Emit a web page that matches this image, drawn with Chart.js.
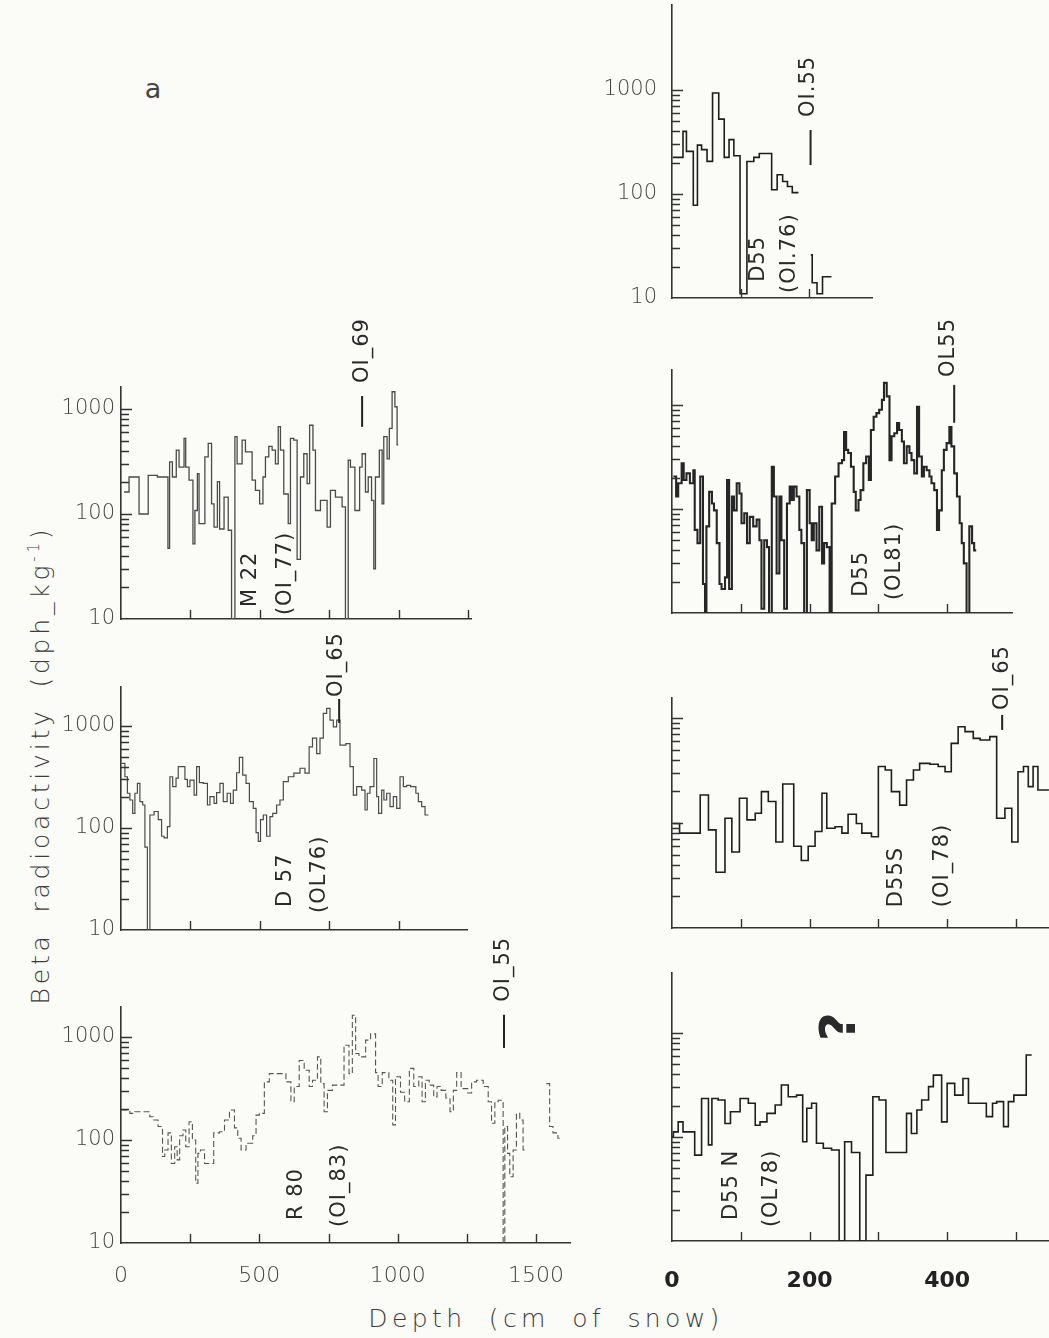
<!DOCTYPE html>
<html>
<head>
<meta charset="utf-8">
<title>Beta radioactivity profiles</title>
<script src="https://cdn.jsdelivr.net/npm/chart.js@4.4.1/dist/chart.umd.min.js"></script>
<style>
  html, body { margin: 0; padding: 0; background: #fbfbf8; }
  #fig { position: relative; width: 1049px; height: 1338px; overflow: hidden; }
  #fig canvas { position: absolute; }
  .lbl { position: absolute; white-space: nowrap; color: #3c3c3c;
         font-family: "DejaVu Sans", sans-serif; font-weight: 300; line-height: 1; }
  .rot { transform: translate(-50%, -50%) rotate(-90deg); }
  .ctr { transform: translate(-50%, -50%); }
  sup { font-size: 0.6em; vertical-align: 0.7em; }
</style>
</head>
<body>
<div id="fig">
  <div class="lbl ctr" style="left:153px; top:88px; font-size:27px; font-weight:normal; color:#444;">a</div>
  <div class="lbl rot" style="left:40px; top:765px; font-size:25px; letter-spacing:3.8px; word-spacing:8px;">Beta radioactivity (dph_kg<sup>-1</sup>)</div>
  <div class="lbl ctr" style="left:546px; top:1318px; font-size:25px; letter-spacing:4.4px; word-spacing:10px;">Depth (cm of snow)</div>
</div>
<script>
// ---------------------------------------------------------------------------
// Beta activity (dph kg-1) against depth (cm of snow), one array of bin edges
// (cm) and one array of bin values per core. A null value is a missing bin.
// ---------------------------------------------------------------------------

// M22 (OI_77)
const m22Depth = [11, 29, 65, 98, 131, 169, 175, 185, 199, 209, 227, 233, 245, 259, 266, 275, 281, 302, 314, 326,
  335, 347, 355, 371, 386, 398, 410, 418, 436, 448, 472, 484, 499, 511, 520, 532, 544, 556, 566, 574,
  586, 602, 610, 622, 634, 646, 658, 670, 679, 691, 700, 718, 742, 754, 772, 796, 808, 818, 826, 842,
  859, 868, 880, 890, 902, 910, 916, 930, 940, 946, 958, 966, 976, 986, 994, 998];
const m22Beta = [162, 225, 100, 233, 225, 47, 313, 225, 405, 280, 525, 280, 210, 52, 108, 242, 81, 350, 470, 125,
  75, 203, 72, 145, 70, 10, 545, 300, 505, 390, 210, 168, 125, 225, 350, 440, 405, 300, 680, 405,
  155, 81, 525, 505, 37, 225, 375, 195, 700, 405, 108, 135, 75, 168, 145, 117, 10, 325, 280, 108,
  280, 375, 162, 225, 135, 30, 225, 405, 125, 545, 335, 655, 1460, 1050, 455];

// D57 (OL76)
const d57Depth = [2, 14, 23, 32, 42, 50, 59, 68, 78, 86, 95, 104, 119, 134, 146, 155, 167, 176, 186, 198,
  206, 230, 239, 248, 263, 272, 282, 296, 311, 320, 335, 344, 356, 368, 382, 394, 404, 416, 426, 438,
  450, 462, 476, 486, 494, 502, 512, 524, 536, 546, 560, 572, 584, 602, 622, 644, 662, 677, 689, 704,
  716, 728, 740, 752, 764, 776, 788, 809, 824, 836, 848, 866, 878, 886, 896, 910, 920, 927, 938, 946,
  956, 968, 980, 992, 1004, 1016, 1028, 1042, 1061, 1070, 1082, 1094, 1106];
const d57Beta = [430, 318, 219, 188, 139, 219, 274, 181, 168, 65, 10, 134, 145, 121, 83, 80, 103, 318, 254, 308,
  400, 300, 254, 295, 210, 400, 278, 274, 168, 203, 174, 222, 274, 181, 219, 174, 235, 348, 492, 330,
  274, 181, 156, 90, 74, 121, 134, 83, 129, 139, 168, 188, 285, 318, 345, 385, 345, 625, 760, 536,
  760, 1330, 1490, 1140, 980, 1140, 650, 670, 400, 210, 254, 235, 150, 219, 254, 480, 203, 139, 235, 188,
  219, 162, 203, 156, 318, 254, 262, 254, 219, 181, 162, 134];

// R80 (OI_83)
const r80Depth = [2, 32, 50, 104, 116, 134, 150, 158, 170, 182, 194, 203, 212, 224, 234, 246, 258, 270, 278, 287,
  302, 335, 356, 374, 392, 410, 422, 434, 452, 476, 488, 500, 518, 536, 596, 614, 626, 644, 662, 680,
  692, 710, 722, 734, 746, 764, 806, 824, 836, 848, 860, 884, 902, 920, 929, 944, 968, 982, 992, 1010,
  1025, 1042, 1058, 1076, 1088, 1100, 1114, 1130, 1142, 1157, 1174, 1189, 1201, 1213, 1229, 1253, 1267, 1285, 1309, 1327,
  1339, 1351, 1363, 1381, 1387, 1397, 1405, 1417, 1429, 1441, 1453, 1459, 1537, 1549, 1561, 1579, 1585];
const r80Beta = [195, 181, 188, 168, 156, 135, 69, 80, 117, 59, 86, 64, 110, 125, 86, 150, 100, 38, 74, 80,
  59, 117, 120, 156, 195, 131, 104, 80, 93, 110, 174, 181, 366, 440, 366, 235, 330, 590, 475, 330,
  380, 640, 352, 188, 303, 340, 830, 440, 1620, 690, 640, 930, 1070, 450, 330, 450, 380, 140, 410, 290,
  235, 495, 330, 410, 235, 380, 340, 262, 330, 303, 255, 188, 303, 450, 315, 285, 366, 380, 330, 235,
  145, 235, 243, 10, 135, 74, 44, 80, 181, 156, 80, null, 352, 135, 117, 104];

// D55 (OI.76)
const d55aDepth = [1, 16, 21, 31, 37, 43, 51, 59, 68, 76, 83, 90, 99, 109, 119, 127, 145, 153, 161, 168,
  175, 184, 202, 204, 211, 219, 232];
const d55aBeta = [225, 400, 257, 78, 295, 267, 206, 935, 525, 225, 333, 233, 11, 205, 225, 245, 110, 153, 132, 118,
  103, null, 26, 14, 11, 16];

// D55 (OL81)
const d55bDepth = [2, 6, 9, 14, 17, 21, 26, 31, 33, 37, 41, 45, 48, 50, 54, 58, 61, 65, 69, 72,
  77, 80, 83, 87, 90, 94, 98, 101, 105, 109, 113, 118, 123, 127, 130, 134, 138, 141, 145, 148,
  152, 156, 159, 163, 167, 171, 174, 177, 181, 185, 188, 192, 196, 200, 203, 206, 210, 214, 218, 221,
  225, 229, 232, 237, 242, 247, 250, 253, 256, 260, 264, 267, 271, 274, 278, 282, 286, 289, 293, 297,
  301, 305, 308, 312, 316, 319, 323, 327, 330, 334, 337, 341, 345, 348, 352, 356, 359, 363, 366, 370,
  374, 377, 381, 385, 388, 392, 395, 399, 403, 406, 410, 414, 418, 421, 424, 428, 432, 436, 439, 442];
const d55bBeta = [205, 132, 177, 275, 190, 220, 177, 236, 63, 47, 205, 19, 10, 68, 146, 113, 97, 47, 19, 17,
  22, 190, 17, 132, 97, 177, 141, 73, 91, 47, 84, 68, 79, 50, 11, 50, 43, 10, 255, 132,
  24, 132, 50, 11, 113, 164, 122, 164, 132, 63, 47, 10, 152, 73, 50, 73, 40, 105, 30, 47,
  43, 10, 113, 205, 275, 295, 550, 370, 345, 255, 146, 97, 122, 152, 275, 320, 190, 575, 770, 835,
  900, 1120, 1630, 1210, 295, 500, 535, 670, 575, 445, 275, 400, 345, 295, 220, 960, 320, 205, 255, 236,
  205, 177, 152, 63, 97, 236, 370, 430, 615, 400, 220, 132, 73, 47, 30, 10, 68, 47, 40];

// D55 S (OI_78)
const d55sDepth = [2, 11, 41, 53, 64, 77, 87, 98, 109, 121, 130, 140, 151, 161, 177, 188, 198, 208, 218, 225,
  237, 247, 256, 268, 276, 290, 300, 310, 319, 331, 341, 351, 360, 375, 387, 397, 406, 416, 426, 438,
  448, 462, 472, 484, 494, 503, 511, 518, 525, 532, 548];
const d55sBeta = [99, 80, 185, 86, 34, 111, 53, 172, 107, 124, 199, 160, 66, 235, 60, 44, 60, 83, 192, 89,
  92, 80, 121, 99, 80, 74, 345, 320, 199, 148, 257, 320, 370, 362, 345, 308, 573, 826, 741, 640,
  617, 664, 111, 138, 66, 308, 345, 222, 345, 206];

// D55 N (OL78)
const d55nDepth = [0, 2, 9, 16, 33, 43, 53, 58, 67, 77, 85, 99, 111, 121, 128, 138, 150, 159, 169, 181,
  190, 196, 203, 210, 220, 232, 243, 251, 261, 273, 282, 292, 301, 311, 341, 348, 356, 363, 373, 380,
  392, 400, 411, 423, 431, 457, 466, 472, 482, 489, 497, 515, 523];
const d55nBeta = [101, 112, 140, 112, 67, 235, 84, 235, 227, 135, 175, 235, 211, 130, 140, 169, 203, 316, 244, 253,
  90, 189, 211, 87, 78, 75, 10, 90, 71, 10, 43, 244, 227, 71, 169, 108, 182, 227, 305, 394,
  140, 328, 253, 366, 211, 157, 211, 219, 126, 219, 253, 614];

// Axis tick values
const betaTicks = [10, 100, 1000];
const leftDepthTicks = [0, 500, 1000, 1500];
const rightDepthTicks = [0, 200, 400];

// ---------------------------------------------------------------------------
// Layout: plot-area edges on the page (px), axis ranges and drawing styles
// ---------------------------------------------------------------------------
const LEFT_PX_PER_CM = 0.278, RIGHT_PX_PER_CM = 0.688;
const Y_W = 90, X_H = 70, PAD_T = 100, PAD_R = 12;
const FONT = '"DejaVu Sans", sans-serif';

const panels = [
  { depth: m22Depth, beta: m22Beta, left: 121, top: 387, bottom: 619, xMax: 1260, yMax: 1620,
    scale: LEFT_PX_PER_CM, step: 250, xLabels: null, yLabels: true, yPad: 6,
    line: { color: '#4a4a4a', width: 1.3 },
    notes: [ { text: 'M 22', x: 467, y: 13 }, { text: '(OI_77)', x: 592, y: 10.9 }, { text: 'OI_69', x: 868, y: 1770 } ],
    marks: [ { x: 868, y0: 676, y1: 1330 } ] },
  { depth: d57Depth, beta: d57Beta, left: 121, top: 687, bottom: 930, xMax: 1245, yMax: 2410,
    scale: LEFT_PX_PER_CM, step: 250, xLabels: null, yLabels: true, yPad: 6,
    line: { color: '#4a4a4a', width: 1.2 },
    notes: [ { text: 'D 57', x: 592, y: 16.8 }, { text: '(OL76)', x: 715, y: 14.7 }, { text: 'OI_65', x: 776, y: 1920 } ],
    marks: [ { x: 785, y0: 1070, y1: 1840 } ] },
  { depth: r80Depth, beta: r80Beta, left: 121, top: 1007, bottom: 1243, xMax: 1625, yMax: 1950,
    scale: LEFT_PX_PER_CM, step: 250, xLabels: leftDepthTicks, xPad: 20, yLabels: true, yPad: 6,
    line: { color: '#555', width: 1.1, dash: [6, 3] },
    notes: [ { text: 'R 80', x: 633, y: 16.7 }, { text: '(OI_83)', x: 790, y: 14.3 }, { text: 'OI_55', x: 1384, y: 2190 } ],
    marks: [ { x: 1384, y0: 781, y1: 1640 } ] },
  { depth: d55aDepth, beta: d55aBeta, left: 672, top: 5, bottom: 298, xMax: 291, yMax: 6560,
    scale: RIGHT_PX_PER_CM, step: 100, xLabels: null, yLabels: true, yPad: 15,
    line: { color: '#1e1e1e', width: 1.6 },
    notes: [ { text: 'D55', x: 126, y: 14.3 }, { text: '(OI.76)', x: 171.5, y: 11.2 }, { text: 'OI.55', x: 199, y: 550 } ],
    marks: [ { x: 201.6, y0: 190, y1: 412 } ] },
  { depth: d55bDepth, beta: d55bBeta, left: 672, top: 370, bottom: 613, xMax: 494, yMax: 2170,
    scale: RIGHT_PX_PER_CM, step: 100, xLabels: null, yLabels: false,
    line: { color: '#262626', width: 2.1 },
    notes: [ { text: 'D55', x: 276, y: 14.3 }, { text: '(OL81)', x: 324, y: 13.3 }, { text: 'OL55', x: 401.6, y: 1860 } ],
    marks: [ { x: 410, y0: 675, y1: 1560 } ] },
  { depth: d55sDepth, beta: d55sBeta, left: 672, top: 698, bottom: 928, xMax: 551, yMax: 1550,
    scale: RIGHT_PX_PER_CM, step: 100, xLabels: null, yLabels: false,
    line: { color: '#1e1e1e', width: 1.6 },
    notes: [ { text: 'D55S', x: 326.6, y: 15.8 }, { text: '(OI_78)', x: 393, y: 15.8 }, { text: 'OI_65', x: 480, y: 1190 } ],
    marks: [ { x: 480, y0: 770, y1: 1070 } ] },
  { depth: d55nDepth, beta: d55nBeta, left: 672, top: 973, bottom: 1241, xMax: 551, yMax: 3780,
    scale: RIGHT_PX_PER_CM, step: 100, xLabels: rightDepthTicks, xPad: 27, yLabels: false,
    line: { color: '#1e1e1e', width: 1.6 },
    notes: [ { text: 'D55 N', x: 86.7, y: 15.9 }, { text: '(OL78)', x: 145, y: 13.6 },
             { text: '?', x: 247, y: 1150, size: 50, weight: 'bold', align: 'center' } ],
    marks: [] }
];

// Bin edges + bin values -> points for a step line (value holds until the next edge)
function stepPoints(edges, vals) {
  const pts = [];
  for (let i = 0; i < vals.length; i++) {
    if (vals[i] === null) {
      if (i > 0 && vals[i - 1] !== null) pts.push({ x: edges[i], y: vals[i - 1] });
      pts.push({ x: edges[i], y: null });
    } else {
      pts.push({ x: edges[i], y: vals[i] });
    }
  }
  pts.push({ x: edges[vals.length], y: vals[vals.length - 1] });
  return pts;
}

// Tick marks drawn inward from the axes: decade ladder on y, regular marks on x
const innerTicks = {
  id: 'innerTicks',
  afterDraw(chart, args, o) {
    const { ctx, chartArea: a, scales: { x, y } } = chart;
    ctx.save();
    ctx.strokeStyle = '#333';
    ctx.lineWidth = 1.4;
    ctx.beginPath();
    for (let d = 10; d <= 1000; d *= 10) {
      for (let m = 1; m < 10; m++) {
        const v = d * m;
        if (v <= y.min || v > Math.min(1000, y.max)) continue;
        const py = Math.round(y.getPixelForValue(v)) + 0.5;
        const len = m === 1 ? 11 : 8;
        ctx.moveTo(a.left, py); ctx.lineTo(a.left + len, py);
      }
    }
    for (let v = o.step; v < x.max; v += o.step) {
      const px = Math.round(x.getPixelForValue(v)) + 0.5;
      ctx.moveTo(px, a.bottom); ctx.lineTo(px, a.bottom - 9);
    }
    ctx.stroke();
    ctx.restore();
  }
};

// Core names, horizon labels and reference-layer marks, written upward
const notes = {
  id: 'notes',
  afterDraw(chart, args, o) {
    const { ctx, scales: { x, y } } = chart;
    ctx.save();
    ctx.strokeStyle = '#222';
    ctx.lineWidth = 2;
    ctx.beginPath();
    for (const m of o.marks) {
      const px = x.getPixelForValue(m.x);
      ctx.moveTo(px, y.getPixelForValue(m.y0));
      ctx.lineTo(px, y.getPixelForValue(m.y1));
    }
    ctx.stroke();
    ctx.fillStyle = '#2a2a2a';
    for (const n of o.items) {
      ctx.save();
      ctx.translate(x.getPixelForValue(n.x), y.getPixelForValue(n.y));
      ctx.rotate(-Math.PI / 2);
      ctx.font = (n.weight || 'normal') + ' ' + (n.size || 21) + 'px ' + FONT;
      if ('letterSpacing' in ctx) ctx.letterSpacing = n.size ? '0px' : '1px';
      ctx.textAlign = n.align || 'left';
      ctx.textBaseline = 'middle';
      ctx.fillText(n.text, 0, 0);
      ctx.restore();
    }
    ctx.restore();
  }
};

const fig = document.getElementById('fig');

panels.forEach(p => {
  const plotW = p.xMax * p.scale;
  const plotH = p.bottom - p.top;
  const w = Math.round(plotW + Y_W + PAD_R);
  const h = Math.round(plotH + PAD_T + X_H);
  const c = document.createElement('canvas');
  c.width = w; c.height = h;
  c.style.left = (p.left - Y_W) + 'px';
  c.style.top = (p.top - PAD_T) + 'px';
  c.style.width = w + 'px'; c.style.height = h + 'px';
  fig.appendChild(c);

  const xTicks = p.xLabels || [0];
  new Chart(c, {
    type: 'line',
    data: {
      datasets: [{
        data: stepPoints(p.depth, p.beta),
        stepped: 'before',
        borderColor: p.line.color,
        borderWidth: p.line.width,
        borderDash: p.line.dash || [],
        pointRadius: 0,
        fill: false,
        spanGaps: false
      }]
    },
    options: {
      responsive: false,
      animation: false,
      events: [],
      layout: { padding: { top: PAD_T, right: PAD_R, left: 0, bottom: 0 } },
      plugins: {
        legend: { display: false },
        tooltip: { enabled: false },
        innerTicks: { step: p.step },
        notes: { items: p.notes, marks: p.marks }
      },
      scales: {
        x: {
          type: 'linear', min: 0, max: p.xMax, bounds: 'data',
          grid: { display: false, drawTicks: false },
          border: { display: true, color: '#333', width: 1.6 },
          ticks: {
            display: !!p.xLabels, padding: p.xPad || 20, maxRotation: 0, autoSkip: false,
            color: p.xLabels === rightDepthTicks ? '#222' : '#444',
            font: { family: FONT, size: 22, weight: p.xLabels === rightDepthTicks ? 'bold' : '300' },
            callback: v => String(v)
          },
          afterBuildTicks: s => { s.ticks = xTicks.map(v => ({ value: v })); },
          afterFit: s => { s.height = X_H; }
        },
        y: {
          type: 'logarithmic', min: 10, max: p.yMax, bounds: 'data',
          grid: { display: false, drawTicks: false },
          border: { display: true, color: '#333', width: 1.6 },
          ticks: {
            display: p.yLabels, padding: p.yPad || 6, autoSkip: false,
            color: '#444', font: { family: FONT, size: 21, weight: '300' },
            callback: v => String(v)
          },
          afterBuildTicks: s => { s.ticks = betaTicks.filter(v => v <= p.yMax).map(v => ({ value: v })); },
          afterFit: s => { s.width = Y_W; }
        }
      }
    },
    plugins: [innerTicks, notes]
  });
});
</script>
</body>
</html>
